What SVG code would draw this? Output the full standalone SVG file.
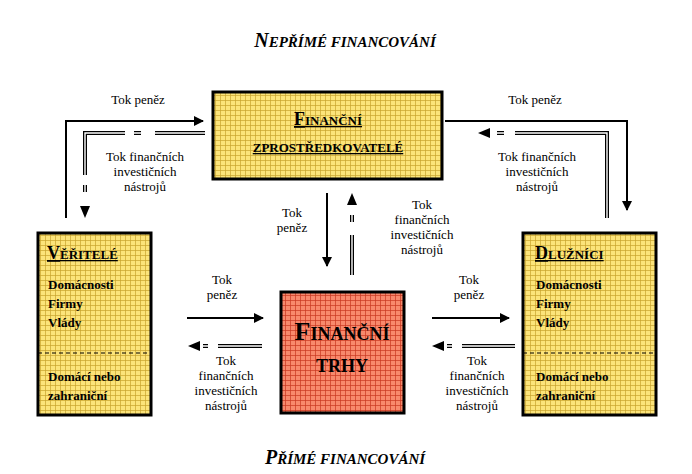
<svg xmlns="http://www.w3.org/2000/svg" width="692" height="474" viewBox="0 0 692 474">
<defs>
<pattern id="gy" width="5" height="5" patternUnits="userSpaceOnUse"><rect width="5" height="5" fill="#fce47a"/><path d="M0 0.5H5M0.5 0V5" stroke="#c9a42c" stroke-width="0.7"/></pattern>
<pattern id="gr" width="5" height="5" patternUnits="userSpaceOnUse"><rect width="5" height="5" fill="#f8896c"/><path d="M0 0.5H5M0.5 0V5" stroke="#c9381f" stroke-width="0.7"/></pattern>
<marker id="ah" viewBox="0 0 10 10" refX="9" refY="5" markerWidth="10" markerHeight="10" markerUnits="userSpaceOnUse" orient="auto"><path d="M0 0L10 5L0 10z" fill="#000"/></marker>
</defs>
<style>
text{font-family:"Liberation Serif","Times New Roman","DejaVu Serif",serif;fill:#000}
.l{font-size:13px;text-anchor:middle}
.b{font-size:13px;font-weight:bold}
.t{font-weight:bold;font-style:italic;font-size:15px;text-anchor:middle}
.h{font-weight:bold;font-size:13px;text-anchor:middle}
.hs{font-weight:bold;font-size:13px}
.hb{font-weight:bold;font-size:18px;text-anchor:middle}
.box{stroke:#000;stroke-width:3}
.s{fill:none;stroke:#000;stroke-width:2}
.d{fill:none;stroke:#000;stroke-width:4}
.dw{fill:none;stroke:#fff;stroke-width:1.4}
</style>
<text class="t" x="345" y="47"><tspan font-size="20">N</tspan>EPŘÍMÉ FINANCOVÁNÍ</text>
<text class="t" x="345" y="464"><tspan font-size="20">P</tspan>ŘÍMÉ FINANCOVÁNÍ</text>
<g id="zprostredkovatele">
<rect class="box" x="213" y="92" width="229" height="87" fill="url(#gy)"/>
<text class="h" x="328" y="125" text-decoration="underline"><tspan font-size="18">F</tspan>INANČNÍ</text>
<text class="h" x="328" y="152" text-decoration="underline">ZPROSTŘEDKOVATELÉ</text>
</g>
<g id="veritele">
<rect class="box" x="38" y="233" width="113" height="182" fill="url(#gy)"/>
<line x1="38" y1="353" x2="151" y2="353" stroke="#000" stroke-dasharray="4,3"/>
<text class="hs" x="47" y="259" text-decoration="underline"><tspan font-size="18">V</tspan>ĚŘITELÉ</text>
<text class="b" x="48" y="289">Domácnosti</text>
<text class="b" x="48" y="308">Firmy</text>
<text class="b" x="48" y="327">Vlády</text>
<text class="b" x="48" y="381">Domácí nebo</text>
<text class="b" x="48" y="400">zahraniční</text>
</g>
<g id="dluznici">
<rect class="box" x="523" y="233" width="133" height="182" fill="url(#gy)"/>
<line x1="523" y1="353" x2="656" y2="353" stroke="#000" stroke-dasharray="4,3"/>
<text class="hs" x="535" y="259" text-decoration="underline"><tspan font-size="18">D</tspan>LUŽNÍCI</text>
<text class="b" x="536" y="289">Domácnosti</text>
<text class="b" x="536" y="308">Firmy</text>
<text class="b" x="536" y="327">Vlády</text>
<text class="b" x="536" y="381">Domácí nebo</text>
<text class="b" x="536" y="400">zahraniční</text>
</g>
<g id="trhy">
<rect class="box" x="281" y="292" width="123" height="121" fill="url(#gr)"/>
<text class="hb" x="342" y="340"><tspan font-size="26">F</tspan>INANČNÍ</text>
<text class="hb" x="342" y="372">TRHY</text>
</g>
<g id="connectors">
<path class="s" d="M66 218V121H203" marker-end="url(#ah)"/>
<path class="s" d="M445 121H627V210" marker-end="url(#ah)"/>
<path class="s" d="M327 193V266" marker-end="url(#ah)"/>
<path class="s" d="M187 318H263" marker-end="url(#ah)"/>
<path class="s" d="M432 318H509" marker-end="url(#ah)"/>
<path class="d" d="M205 133H155M141 133H134M125 133H85V175M85 185V192"/>
<path class="dw" d="M205 133H155M141 133H134M125 133H85V175M85 185V192"/>
<path d="M80 206H90L85 218z"/>
<path class="d" d="M607 218V133H515M504 133H497"/>
<path class="dw" d="M607 218V133H515M504 133H497"/>
<path d="M490 128V138L478 133z"/>
<path class="d" d="M352 275V235M352 222V215"/>
<path class="dw" d="M352 275V235M352 222V215"/>
<path d="M347 205H357L352 193z"/>
<path class="d" d="M262 346H218M208 346H203"/>
<path class="dw" d="M262 346H218M208 346H203"/>
<path d="M200 341V351L188 346z"/>
<path class="d" d="M515 346H462M452 346H447"/>
<path class="dw" d="M515 346H462M452 346H447"/>
<path d="M444 341V351L432 346z"/>
</g>
<text class="l" x="138" y="104">Tok peněz</text>
<text class="l" x="535" y="104">Tok peněz</text>
<text class="l" x="145" y="161">Tok finančních</text>
<text class="l" x="145" y="176">investičních</text>
<text class="l" x="145" y="191">nástrojů</text>
<text class="l" x="537" y="161">Tok finančních</text>
<text class="l" x="537" y="176">investičních</text>
<text class="l" x="537" y="191">nástrojů</text>
<text class="l" x="292" y="217">Tok</text>
<text class="l" x="292" y="232">peněz</text>
<text class="l" x="422" y="209">Tok</text>
<text class="l" x="422" y="224">finančních</text>
<text class="l" x="422" y="239">investičních</text>
<text class="l" x="422" y="254">nástrojů</text>
<text class="l" x="222" y="284">Tok</text>
<text class="l" x="222" y="299">peněz</text>
<text class="l" x="469" y="284">Tok</text>
<text class="l" x="469" y="299">peněz</text>
<text class="l" x="226" y="365">Tok</text>
<text class="l" x="226" y="380">finančních</text>
<text class="l" x="226" y="395">investičních</text>
<text class="l" x="226" y="410">nástrojů</text>
<text class="l" x="477" y="365">Tok</text>
<text class="l" x="477" y="380">finančních</text>
<text class="l" x="477" y="395">investičních</text>
<text class="l" x="477" y="410">nástrojů</text>
</svg>
